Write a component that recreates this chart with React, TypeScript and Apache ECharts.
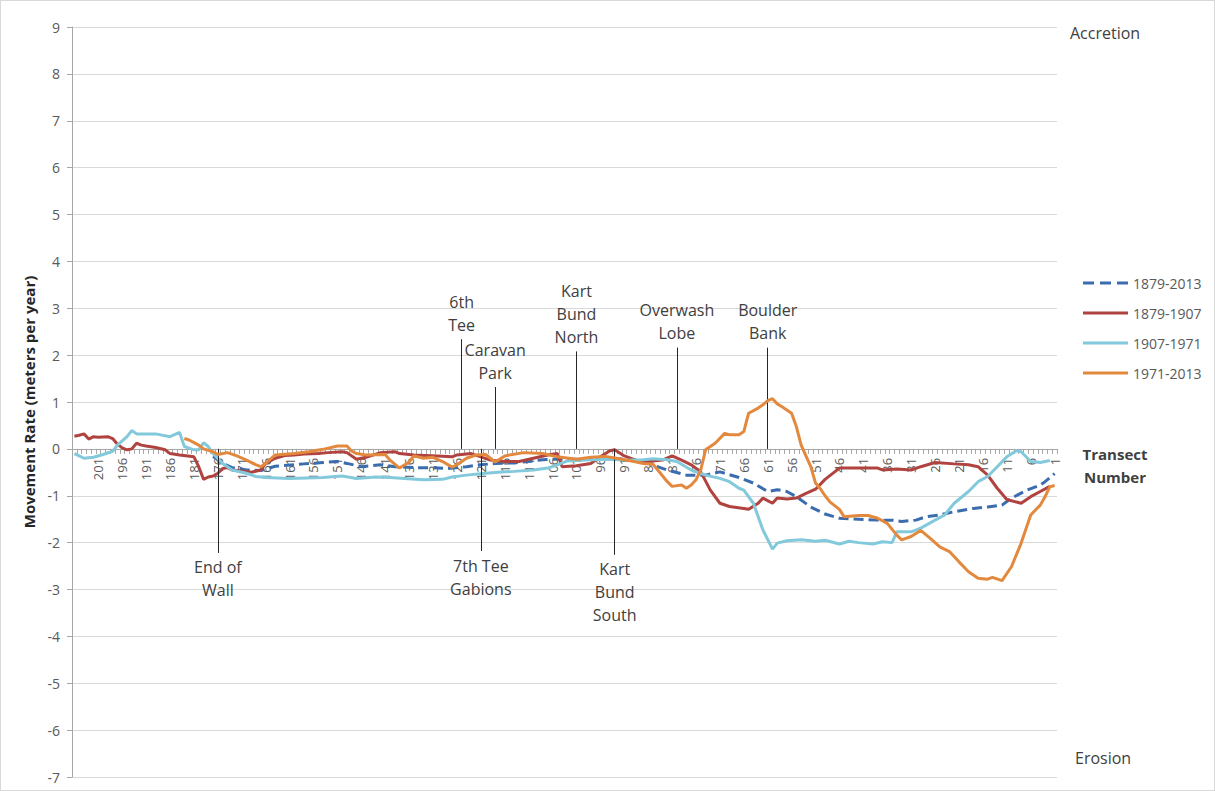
import React, { useEffect, useRef } from "react";
import * as echarts from "echarts";

// Transect numbers (categories), left to right: 206 .. 1
const transects: string[] = [];
for (let t = 206; t >= 1; t--) transects.push(String(t));

const seriesNames = ["1879-2013", "1879-1907", "1907-1971", "1971-2013"];
const seriesColors = ["#3b6cae", "#b0433f", "#82c9dc", "#e3893d"];

// [transect, movement rate m/yr]
const rate1879_2013: [number, number][] = [
  [177, -0.16], [175, -0.31], [173, -0.4], [170, -0.45], [167, -0.46], [164, -0.37], [160, -0.34],
  [158, -0.32], [154, -0.29], [151, -0.27], [149, -0.31], [146, -0.38], [142, -0.34], [139, -0.38],
  [135, -0.4], [131, -0.4], [128, -0.42], [124, -0.38], [121, -0.34], [118, -0.31], [114, -0.3],
  [111, -0.27], [108, -0.23], [105, -0.22], [100, -0.22], [95, -0.2], [91, -0.22], [88, -0.26],
  [86, -0.31], [82, -0.45], [78, -0.56], [74, -0.56], [71, -0.49], [67, -0.61], [64, -0.73],
  [61, -0.91], [59, -0.87], [57, -0.91], [55, -1.02], [52, -1.24], [49, -1.39], [46, -1.48],
  [42, -1.5], [38, -1.52], [35, -1.52], [33, -1.55], [30, -1.52], [28, -1.45], [25, -1.41],
  [22, -1.34], [18, -1.27], [15, -1.24], [12, -1.2], [10, -1.05], [7, -0.89], [4, -0.77],
  [3, -0.7], [1, -0.53],
];

const rate1879_1907: [number, number][] = [
  [206, 0.27], [205, 0.29], [204, 0.32], [203, 0.21], [202, 0.26], [201, 0.25], [199, 0.26],
  [198, 0.22], [197, 0.1], [196, 0.02], [195, -0.02], [194, 0.0], [193, 0.12], [192, 0.08],
  [191, 0.06], [189, 0.03], [187, -0.02], [186, -0.1], [184, -0.13], [181, -0.17], [180, -0.38],
  [179, -0.65], [178, -0.6], [177, -0.58], [176, -0.52], [175, -0.42], [174, -0.4], [173, -0.45],
  [171, -0.47], [169, -0.5], [167, -0.45], [166, -0.31], [164, -0.2], [162, -0.14], [160, -0.13],
  [158, -0.11], [155, -0.1], [153, -0.08], [150, -0.06], [149, -0.08], [147, -0.22], [145, -0.18],
  [142, -0.08], [139, -0.06], [138, -0.1], [135, -0.13], [130, -0.15], [127, -0.17], [126, -0.13],
  [123, -0.1], [121, -0.17], [119, -0.24], [116, -0.27], [113, -0.27], [110, -0.2], [107, -0.13],
  [105, -0.1], [104, -0.38], [101, -0.36], [98, -0.31], [96, -0.17], [94, -0.04], [93, -0.02],
  [91, -0.15], [88, -0.26], [86, -0.27], [83, -0.24], [81, -0.15], [79, -0.24], [77, -0.34],
  [75, -0.49], [73, -0.88], [71, -1.16], [69, -1.23], [66, -1.27], [65, -1.29], [63, -1.16],
  [62, -1.05], [60, -1.16], [59, -1.05], [57, -1.07], [55, -1.05], [53, -0.95], [51, -0.86],
  [49, -0.65], [47, -0.49], [46, -0.41], [42, -0.41], [38, -0.41], [37, -0.45], [34, -0.43],
  [31, -0.45], [29, -0.38], [26, -0.29], [22, -0.32], [19, -0.34], [17, -0.38], [15, -0.56],
  [13, -0.84], [11, -1.08], [8, -1.16], [6, -1.02], [4, -0.91], [2, -0.8],
];

const rate1907_1971: [number, number][] = [
  [206, -0.1], [205, -0.15], [204, -0.2], [202, -0.18], [200, -0.12], [198, -0.05], [197, 0.08],
  [195, 0.26], [194, 0.39], [193, 0.32], [189, 0.32], [186, 0.26], [184, 0.35], [183, 0.05],
  [181, -0.02], [180, -0.02], [179, 0.13], [178, 0.05], [177, -0.1], [175, -0.31], [173, -0.45],
  [170, -0.52], [168, -0.59], [166, -0.61], [161, -0.63], [154, -0.61], [150, -0.58], [147, -0.63],
  [143, -0.6], [140, -0.61], [137, -0.63], [133, -0.66], [129, -0.65], [127, -0.6], [124, -0.56],
  [120, -0.52], [116, -0.49], [114, -0.48], [110, -0.45], [107, -0.41], [105, -0.34], [103, -0.26],
  [99, -0.24], [95, -0.22], [91, -0.24], [87, -0.23], [85, -0.21], [82, -0.23], [80, -0.27],
  [77, -0.45], [74, -0.56], [71, -0.63], [69, -0.7], [67, -0.84], [66, -0.88], [64, -1.16],
  [62, -1.73], [60, -2.14], [59, -2.01], [57, -1.96], [54, -1.94], [51, -1.97], [49, -1.95],
  [46, -2.03], [44, -1.97], [42, -2.0], [39, -2.03], [37, -1.98], [35, -2.0], [34, -1.77],
  [31, -1.77], [29, -1.69], [26, -1.52], [24, -1.41], [22, -1.16], [19, -0.91], [17, -0.7],
  [15, -0.59], [13, -0.38], [11, -0.17], [9, -0.04], [8, -0.06], [6, -0.27], [4, -0.29], [2, -0.25],
];

const rate1971_2013: [number, number][] = [
  [183, 0.22], [182, 0.19], [180, 0.08], [179, 0.0], [177, -0.06], [176, -0.12], [174, -0.08],
  [172, -0.15], [170, -0.24], [168, -0.34], [167, -0.38], [166, -0.31], [164, -0.13], [160, -0.1],
  [157, -0.06], [154, -0.01], [151, 0.06], [149, 0.06], [148, -0.05], [147, -0.1], [145, -0.13],
  [141, -0.12], [140, -0.24], [138, -0.41], [136, -0.28], [135, -0.15], [133, -0.2], [131, -0.18],
  [129, -0.27], [127, -0.39], [126, -0.34], [124, -0.2], [122, -0.13], [120, -0.12], [118, -0.28],
  [116, -0.15], [112, -0.08], [108, -0.1], [105, -0.17], [101, -0.22], [98, -0.18], [95, -0.16],
  [92, -0.21], [89, -0.27], [87, -0.31], [85, -0.33], [84, -0.45], [82, -0.7], [81, -0.8],
  [79, -0.77], [78, -0.84], [77, -0.77], [76, -0.66], [75, -0.45], [74, -0.02], [72, 0.12],
  [70, 0.33], [69, 0.3], [67, 0.3], [66, 0.37], [65, 0.76], [63, 0.87], [62, 0.94], [61, 1.03],
  [60, 1.07], [59, 0.96], [58, 0.9], [56, 0.76], [55, 0.47], [54, 0.08], [52, -0.38], [51, -0.73],
  [50, -0.85], [49, -1.0], [48, -1.13], [46, -1.29], [45, -1.45], [42, -1.42], [40, -1.42],
  [38, -1.48], [36, -1.59], [34, -1.84], [33, -1.94], [31, -1.87], [29, -1.74], [27, -1.91],
  [25, -2.09], [23, -2.19], [21, -2.41], [19, -2.62], [17, -2.76], [15, -2.78], [14, -2.74],
  [12, -2.81], [10, -2.51], [8, -2.01], [6, -1.41], [4, -1.2], [3, -1.02], [2, -0.81], [1, -0.78],
];

// Site annotations: label, transect, end of leader line (m/yr)
const siteNames = ["End of\nWall", "6th\nTee", "Caravan\nPark", "7th Tee\nGabions", "Kart\nBund\nNorth", "Kart\nBund\nSouth", "Overwash\nLobe", "Boulder\nBank"];
const siteTransects = [176, 125, 118, 121, 101, 93, 80, 61];
const siteLineEnds = [-2.22, 2.34, 1.32, -2.18, 2.08, -2.26, 2.16, 2.16];

// Labelled transects on the category axis
const labelledTransects = new Set<string>();
for (let t = 201; t >= 1; t -= 5) labelledTransects.add(String(t));

const Y_MIN = -7;
const Y_MAX = 9;
const FONT = "'Open Sans', 'Noto Sans', sans-serif";
const DASH_ICON = "path://M0,0h11v3h-11z M17,0h11v3h-11z M34,0h11v3h-11z";
const LINE_ICON = "path://M0,0h45v3h-45z";
const idx = (t: number) => 206 - t;
const toData = (arr: [number, number][]) => arr.map(([t, v]) => [idx(t), v]);

export default function App() {
  const ref = useRef<HTMLDivElement>(null);
  useEffect(() => {
    if (!ref.current) return;
    const chart = echarts.init(ref.current, undefined, { renderer: "svg" });
    const H = chart.getHeight();
    const gridTop = 26;
    const gridBottom = 13;
    const plotH = H - gridTop - gridBottom;
    // move the category axis up to the zero line
    const zeroOffset = -plotH * (0 - Y_MIN) / (Y_MAX - Y_MIN);

    const allSeries = [rate1879_2013, rate1879_1907, rate1907_1971, rate1971_2013];
    const series: any[] = allSeries.map((arr, i) => ({
      name: seriesNames[i],
      type: "line",
      data: toData(arr),
      symbol: "none",
      smooth: false,
      lineStyle: {
        color: seriesColors[i],
        width: 3,
        type: i === 0 ? [10, 5] : "solid",
      },
      itemStyle: { color: seriesColors[i] },
      z: 2 + i,
    }));
    series[0].markLine = {
      silent: true,
      symbol: ["none", "none"],
      animation: false,
      lineStyle: { color: "#262626", width: 1, type: "solid" },
      label: {
        show: true,
        position: "end",
        distance: 3,
        formatter: "{b}",
        color: "#404040",
        fontFamily: FONT,
        fontSize: 16,
        lineHeight: 23,
        align: "center",
      },
      emphasis: { disabled: true },
      data: siteNames.map((name, i) => [
        { name, coord: [idx(siteTransects[i]), 0] },
        { coord: [idx(siteTransects[i]), siteLineEnds[i]] },
      ]),
    };

    chart.setOption({
      animation: false,
      backgroundColor: "#ffffff",
      textStyle: { fontFamily: FONT },
      grid: { left: 71, right: 157, top: gridTop, bottom: gridBottom, outerBoundsMode: "none" },
      legend: {
        orient: "vertical",
        left: 1077,
        top: 270,
        itemWidth: 45,
        itemHeight: 3,
        itemGap: 16,
        data: seriesNames.map((name, i) => ({ name, icon: i === 0 ? DASH_ICON : LINE_ICON })),
        textStyle: { color: "#595959", fontSize: 14, fontFamily: FONT, lineHeight: 14 },
        selectedMode: false,
      },
      xAxis: {
        type: "category",
        data: transects,
        boundaryGap: true,
        offset: zeroOffset,
        axisLine: { onZero: false, lineStyle: { color: "#a6a6a6", width: 1 } },
        axisTick: { show: true, interval: 0, length: 5, lineStyle: { color: "#a6a6a6" } },
        axisLabel: {
          interval: (_i: number, v: string) => labelledTransects.has(v),
          rotate: 90,
          margin: 9,
          fontSize: 13,
          color: "#595959",
          fontFamily: FONT,
        },
        splitLine: { show: false },
      },
      yAxis: {
        type: "value",
        min: Y_MIN,
        max: Y_MAX,
        interval: 1,
        name: "Movement Rate (meters per year)",
        nameLocation: "middle",
        nameGap: 34,
        nameTextStyle: { fontWeight: "bold", fontSize: 15, color: "#262626", fontFamily: FONT },
        axisLine: { show: true, lineStyle: { color: "#a6a6a6" } },
        axisTick: { show: true, length: 5, lineStyle: { color: "#a6a6a6" } },
        axisLabel: { fontSize: 14, color: "#595959", margin: 12, fontFamily: FONT },
        splitLine: { lineStyle: { color: "#d9d9d9", width: 1 } },
      },
      graphic: [
        {
          type: "text",
          left: 1069,
          top: 24,
          style: { text: "Accretion", fontSize: 16, fill: "#404040", fontFamily: FONT },
        },
        {
          type: "text",
          left: 1074,
          top: 749,
          style: { text: "Erosion", fontSize: 16, fill: "#404040", fontFamily: FONT },
        },
        {
          type: "text",
          x: 1114,
          y: 441,
          style: {
            text: "Transect\nNumber",
            fontSize: 15,
            fontWeight: "bold",
            lineHeight: 23,
            align: "center",
            verticalAlign: "top",
            fill: "#404040",
            fontFamily: FONT,
          },
        },
      ],
      series,
    });
    return () => chart.dispose();
  }, []);
  return (
    <div
      ref={ref}
      style={{
        position: "fixed",
        left: 0,
        top: 0,
        width: 1215,
        height: 791,
        boxSizing: "border-box",
        border: "1px solid #d9d9d9",
        background: "#fff",
      }}
    />
  );
}
